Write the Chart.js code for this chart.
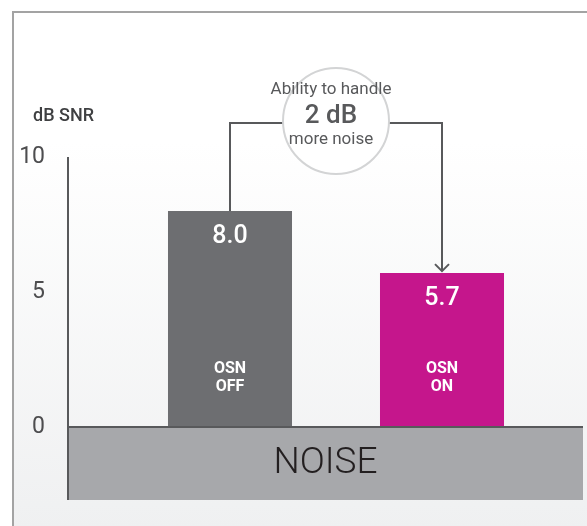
<!DOCTYPE html>
<html>
<head>
<meta charset="utf-8">
<style>
  html, body { margin: 0; padding: 0; background: #fff; }
  body { width: 587px; height: 526px; position: relative; overflow: hidden; }
  #frame {
    position: absolute; left: 12px; top: 11px; right: -4px; bottom: -4px;
    border-left: 2px solid #a3a3a3; border-top: 2px solid #a3a3a3;
    background: linear-gradient(#ffffff 0%, #ffffff 25%, #eff0f1 100%);
  }
  #chart { position: absolute; left: 0; top: 0; }
</style>
<script src="https://cdn.jsdelivr.net/npm/chart.js@4"></script>
</head>
<body>
<div id="frame"></div>
<canvas id="chart" width="587" height="526"></canvas>
<script>
  const categories = [["OSN", "OFF"], ["OSN", "ON"]];
  const values = [8.0, 5.7];
  const barColors = ["#6d6e71", "#c5168c"];
  const yTicks = [0, 5, 10];
  const axisTitle = "dB SNR";
  const noiseLabel = "NOISE";
  const calloutLines = ["Ability to handle", "2 dB", "more noise"];

  const FONT = "Roboto, 'Open Sans', sans-serif";
  const INK = "#58595b";

  const overlay = {
    id: "overlay",
    afterDraw(chart) {
      const { ctx, chartArea } = chart;
      const bars = chart.getDatasetMeta(0).data;
      const axisX = chartArea.left - 56;
      const noiseTop = chartArea.bottom;
      const noiseBottom = chartArea.bottom + 73;
      const noiseRight = chartArea.right + 35;

      ctx.save();

      // noise band under the zero line
      ctx.fillStyle = "#a7a8ab";
      ctx.fillRect(axisX, noiseTop, noiseRight - axisX, noiseBottom - noiseTop);
      ctx.strokeStyle = INK;
      ctx.lineWidth = 2;
      ctx.beginPath();
      ctx.moveTo(axisX, noiseTop);
      ctx.lineTo(noiseRight, noiseTop);
      ctx.stroke();

      ctx.fillStyle = "#231f20";
      ctx.font = "300 37px " + FONT;
      ctx.textAlign = "center";
      ctx.textBaseline = "middle";
      ctx.fillText(noiseLabel, (axisX + noiseRight) / 2, (noiseTop + noiseBottom) / 2);

      // y axis line
      ctx.beginPath();
      ctx.moveTo(axisX, chartArea.top);
      ctx.lineTo(axisX, noiseBottom);
      ctx.stroke();

      // axis title
      ctx.fillStyle = "#3f4042";
      ctx.font = "500 18px " + FONT;
      ctx.textAlign = "left";
      ctx.fillText(axisTitle, 33, chartArea.top - 41);

      // labels inside the bars
      bars.forEach((bar, i) => {
        ctx.fillStyle = "#ffffff";
        ctx.textAlign = "center";
        ctx.font = "500 25px " + FONT;
        ctx.fillText(values[i].toFixed(1), bar.x, bar.y + 26);
        ctx.font = "bold 16px " + FONT;
        ctx.fillText(categories[i][0], bar.x, bar.base - 58);
        ctx.fillText(categories[i][1], bar.x, bar.base - 40);
      });

      // bracket with arrow from first bar to second
      const b0 = bars[0], b1 = bars[1];
      const topY = chartArea.top - 34;
      ctx.strokeStyle = INK;
      ctx.lineWidth = 2;
      ctx.beginPath();
      ctx.moveTo(b0.x, b0.y);
      ctx.lineTo(b0.x, topY);
      ctx.lineTo(b1.x, topY);
      ctx.lineTo(b1.x, b1.y - 2);
      ctx.stroke();
      ctx.beginPath();
      ctx.moveTo(b1.x - 7, b1.y - 9);
      ctx.lineTo(b1.x, b1.y - 2);
      ctx.lineTo(b1.x + 7, b1.y - 9);
      ctx.stroke();

      // callout circle
      const cx = (b0.x + b1.x) / 2;
      const cy = topY - 2;
      ctx.beginPath();
      ctx.arc(cx, cy, 53, 0, Math.PI * 2);
      ctx.fillStyle = "#ffffff";
      ctx.fill();
      ctx.strokeStyle = "#d3d4d5";
      ctx.stroke();

      ctx.fillStyle = INK;
      ctx.textAlign = "center";
      ctx.font = "17px " + FONT;
      ctx.fillText(calloutLines[0], cx - 5, cy - 31);
      ctx.font = "500 26px " + FONT;
      ctx.fillText(calloutLines[1], cx - 5, cy - 5);
      ctx.font = "17px " + FONT;
      ctx.fillText(calloutLines[2], cx - 5, cy + 19);

      ctx.restore();
    }
  };

  new Chart(document.getElementById("chart"), {
    type: "bar",
    data: {
      labels: categories,
      datasets: [
        {
          data: values,
          backgroundColor: barColors,
          borderWidth: 0,
          categoryPercentage: 1,
          barPercentage: 0.585
        }
      ]
    },
    options: {
      responsive: false,
      animation: false,
      layout: {
        padding: { top: 157, right: 39, bottom: 99, left: 0 }
      },
      plugins: {
        legend: { display: false },
        tooltip: { enabled: false }
      },
      scales: {
        x: {
          display: false
        },
        y: {
          min: 0,
          max: 10,
          afterFit(scale) {
            scale.width = 124;
          },
          afterBuildTicks(scale) {
            scale.ticks = yTicks.map((v) => ({ value: v }));
          },
          grid: { display: false },
          border: { display: false },
          ticks: {
            padding: 71,
            color: "#4d4d4f",
            font: { family: FONT, size: 23, weight: "400" }
          }
        }
      }
    },
    plugins: [overlay]
  });
</script>
</body>
</html>
